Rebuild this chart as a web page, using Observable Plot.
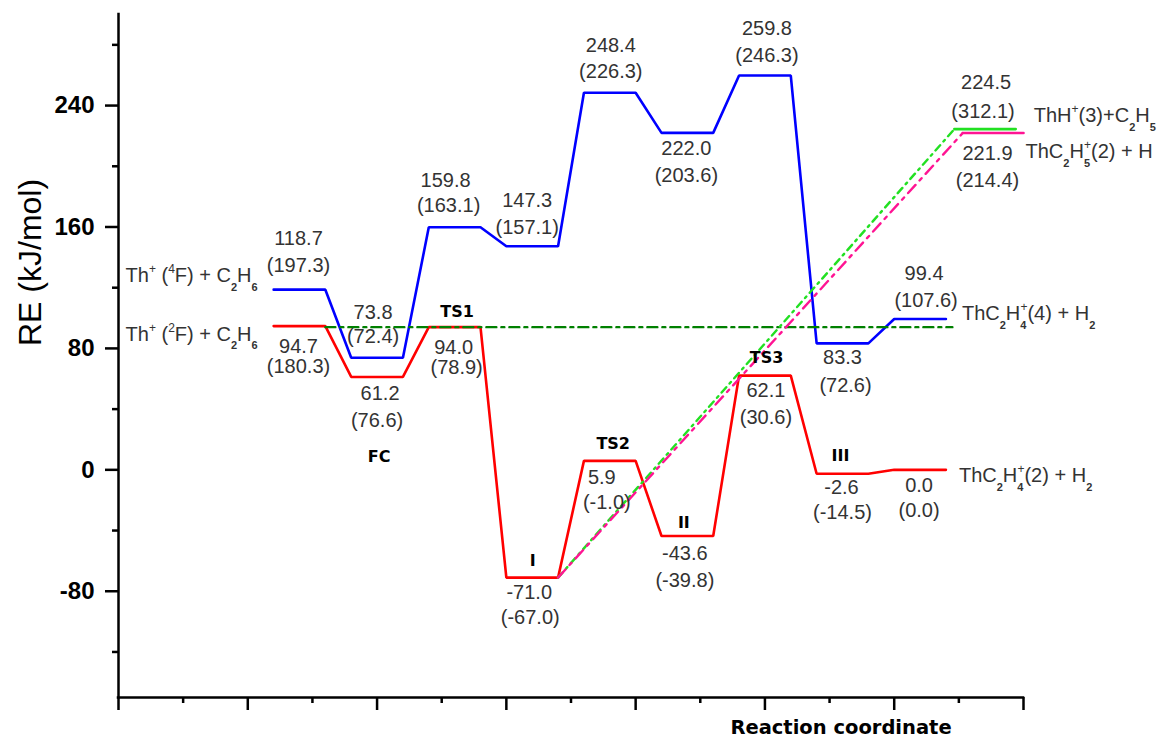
<!DOCTYPE html>
<html>
<head>
<meta charset="utf-8">
<script src="https://cdn.jsdelivr.net/npm/d3@7"></script>
<script src="https://cdn.jsdelivr.net/npm/@observablehq/plot@0.6"></script>
<style>
  html, body { margin: 0; padding: 0; background: #fff; }
  #chart svg { display: block; }
</style>
</head>
<body>
<div id="chart"></div>
<script>
// Stationary points along the reaction coordinate: each one is a short level
const stageStart = [2.4, 3.6, 4.8, 6.0, 7.2, 8.4, 9.6, 10.8, 12.0];
const levelWidth = 0.8;

// Doublet surface (red): relative energies in kJ/mol, second value in parentheses
const doubletRE = [94.7, 61.2, 94.0, -71.0, 5.9, -43.6, 62.1, -2.6, 0.0];
const doubletAlt = [180.3, 76.6, 78.9, -67.0, -1.0, -39.8, 30.6, -14.5, 0.0];
const stateNames = ["", "FC", "TS1", "I", "TS2", "II", "TS3", "III", ""];

// Quartet surface (blue)
const quartetRE = [118.7, 73.8, 159.8, 147.3, 248.4, 222.0, 259.8, 83.3, 99.4];
const quartetAlt = [197.3, 72.4, 163.1, 157.1, 226.3, 203.6, 246.3, 72.6, 107.6];

// Direct dissociation channels out of intermediate I
const channelNames = ["ThH^+(3)+C_2H_5", "ThC_2H_5^+(2) + H"];
const channelRE = [224.5, 221.9];
const channelAlt = [312.1, 214.4];
const channelStart = [12.93, 13.06];
const channelEnd = [13.88, 14.0];

// Entrance and exit species (quartet, doublet)
const reactantNames = ["Th^+ (^4F) + C_2H_6", "Th^+ (^2F) + C_2H_6"];
const productNames = ["ThC_2H_4^+(4) + H_2", "ThC_2H_4^+(2) + H_2"];

// Dash-dot reference line at the entrance energy
const referenceX = [3.2, 12.9];
const referenceRE = [94.0, 94.0];

// Axes
const xDomain = [0, 14];
const yDomain = [-150, 300];
const xMajorTicks = [0, 2, 4, 6, 8, 10, 12, 14];
const xMinorTicks = [1, 3, 5, 7, 9, 11, 13];
const yMajorTicks = [-80, 0, 80, 160, 240];
const yMinorTicks = [-120, -40, 40, 120, 200, 280];
const xTitle = "Reaction coordinate";
const yTitle = "RE (kJ/mol)";

// ---- styling ----
const regularFont = "Liberation Sans, Arial, Helvetica, sans-serif";
const boldFont = "DejaVu Sans, Verdana, sans-serif";
const red = "#ff0000", blue = "#0000ff", refGreen = "#008000";
const channelColors = ["#22e022", "#ff1493"];
const channelDashes = ["7,5,2,5", "11,6,3,6"];
const levelStroke = 2.6;

// label placement, pixel offsets from each level's centre: [dx1, dy1, dx2, dy2]
const quartetLabelOffsets = [
  [-1, -51, -1, -24], [-4, -45, -4, -21], [-9, -47, -6, -22], [-5, -46, -5, -19],
  [1, -47, 1, -21], [-1, 16, -1, 43], [2, -47, 2, -20], [0, 14, 3, 42], [4, -45, 6, -18]
];
const doubletLabelOffsets = [
  [-1, 20, -1, 40], [3, 17, 0, 44], [-1, 20, 2, 40], [-3, 15, -2, 40],
  [-8, 16.5, -3, 41.5], [-2.5, 18, -2.5, 45], [1, 15, 1, 42], [-1, 14, 0, 39], [-1, 16, -1, 41]
];
const stateNameOffsets = [null, [2, 80], [2.5, -15], [0.6, -17], [3.4, -17], [-3.5, -13.6], [1.6, -18], [-2, -18], null];
const channelLabelOffsets = [[1, -46.5, -2, -17], [-5.6, 21, -5.6, 48]];

const levelEnd = stageStart.map(s => s + levelWidth);
const mid = i => stageStart[i] + levelWidth / 2;

function stepPath(values) {
  return values.flatMap((v, i) => [{x: stageStart[i], y: v}, {x: levelEnd[i], y: v}]);
}
const doubletPath = stepPath(doubletRE);
const quartetPath = stepPath(quartetRE);
const fromI = 3;
const channelDash = channelRE.map((v, k) => [
  {x: levelEnd[fromI], y: doubletRE[fromI]}, {x: channelStart[k], y: v}
]);
const channelLevel = channelRE.map((v, k) => [
  {x: channelStart[k], y: v}, {x: channelEnd[k], y: v}
]);
const referencePath = referenceX.map((x, i) => ({x, y: referenceRE[i]}));

const fmt = v => v.toFixed(1);

function label(x, y, text, dx, dy, opts = {}) {
  return Plot.text([{x, y, text}], {
    x: "x", y: "y", text: "text", dx, dy,
    fontSize: 20, fontFamily: regularFont, fill: "#333", ...opts
  });
}

const labelMarks = [];
quartetRE.forEach((v, i) => {
  const [dx1, dy1, dx2, dy2] = quartetLabelOffsets[i];
  labelMarks.push(label(mid(i), v, fmt(v), dx1, dy1));
  labelMarks.push(label(mid(i), v, `(${fmt(quartetAlt[i])})`, dx2, dy2));
});
doubletRE.forEach((v, i) => {
  const [dx1, dy1, dx2, dy2] = doubletLabelOffsets[i];
  labelMarks.push(label(mid(i), v, fmt(v), dx1, dy1));
  labelMarks.push(label(mid(i), v, `(${fmt(doubletAlt[i])})`, dx2, dy2));
  if (stateNames[i]) {
    const [dx, dy] = stateNameOffsets[i];
    labelMarks.push(label(mid(i), v, stateNames[i], dx, dy,
      {fontFamily: boldFont, fontWeight: "bold", fontSize: 16, fill: "#000"}));
  }
});
channelRE.forEach((v, k) => {
  const [dx1, dy1, dx2, dy2] = channelLabelOffsets[k];
  const c = (channelStart[k] + channelEnd[k]) / 2;
  labelMarks.push(label(c, v, fmt(v), dx1, dy1));
  labelMarks.push(label(c, v, `(${fmt(channelAlt[k])})`, dx2, dy2));
});

// species names (markup: ^x superscript, _x subscript)
const speciesMarks = [
  label(stageStart[0], quartetRE[0], reactantNames[0], -16, -14.5, {textAnchor: "end"}),
  label(stageStart[0], doubletRE[0], reactantNames[1], -16, 8, {textAnchor: "end"}),
  label(levelEnd[8], quartetRE[8], productNames[0], 16, -5, {textAnchor: "start"}),
  label(levelEnd[8], doubletRE[8], productNames[1], 13, 5.5, {textAnchor: "start"}),
  label(channelEnd[0], channelRE[0], channelNames[0], 18, -13, {textAnchor: "start"}),
  label(channelEnd[1], channelRE[1], channelNames[1], 2, 19, {textAnchor: "start"})
];

const axisStroke = 2.5;

const chart = Plot.plot({
  width: 1165,
  height: 744,
  marginLeft: 118,
  marginRight: 142,
  marginTop: 14,
  marginBottom: 47,
  style: {fontFamily: regularFont, color: "#000", background: "#fff", overflow: "visible"},
  x: {domain: xDomain, axis: null},
  y: {domain: yDomain, axis: null},
  marks: [
    // axes
    Plot.axisY(yMajorTicks, {anchor: "left", tickSize: 13, tickPadding: 11, strokeWidth: axisStroke,
      tickFormat: d => String(d), fontSize: 24, fontWeight: "bold", fontFamily: regularFont, label: null}),
    Plot.axisY(yMinorTicks, {anchor: "left", tickSize: 6, strokeWidth: axisStroke, tickFormat: () => "", label: null}),
    Plot.axisX(xMajorTicks, {anchor: "bottom", tickSize: 13, strokeWidth: axisStroke, tickFormat: () => "", label: null}),
    Plot.axisX(xMinorTicks, {anchor: "bottom", tickSize: 6, strokeWidth: axisStroke, tickFormat: () => "", label: null}),
    Plot.ruleX([xDomain[0]], {y1: yDomain[0], y2: yDomain[1], strokeWidth: axisStroke, strokeLinecap: "square"}),
    Plot.ruleY([yDomain[0]], {x1: xDomain[0], x2: xDomain[1], strokeWidth: axisStroke, strokeLinecap: "square"}),
    Plot.text([yTitle], {frameAnchor: "left", rotate: -90, dx: -88, dy: -10,
      fontSize: 32, fontFamily: regularFont, fill: "#000"}),
    Plot.text([xTitle], {frameAnchor: "bottom", dx: 270, dy: 36,
      fontSize: 19.5, fontWeight: "bold", fontFamily: boldFont, fill: "#000"}),

    // energy profiles
    Plot.line(quartetPath, {x: "x", y: "y", stroke: blue, strokeWidth: levelStroke, strokeLinejoin: "miter"}),
    Plot.line(doubletPath, {x: "x", y: "y", stroke: red, strokeWidth: levelStroke, strokeLinejoin: "miter"}),
    ...channelLevel.map((d, k) => Plot.line(d, {x: "x", y: "y", stroke: channelColors[k], strokeWidth: levelStroke})),
    Plot.line(referencePath, {x: "x", y: "y", stroke: refGreen, strokeWidth: 2.4, strokeDasharray: "10,5,3,5"}),
    ...channelDash.map((d, k) => Plot.line(d, {x: "x", y: "y", stroke: channelColors[k], strokeWidth: 2.4,
      strokeDasharray: channelDashes[k]})),

    ...labelMarks,
    ...speciesMarks
  ]
});

// turn ^x / _x markup into super- and subscript tspans
function richText(el) {
  const src = el.textContent;
  if (!/[\^_]/.test(src)) return;
  const NS = "http://www.w3.org/2000/svg";
  const runs = [];
  for (let i = 0; i < src.length; i++) {
    const c = src[i];
    if ((c === "^" || c === "_") && i + 1 < src.length) {
      runs.push({kind: c === "^" ? "sup" : "sub", text: src[++i]});
    } else if (runs.length && runs[runs.length - 1].kind === "normal") {
      runs[runs.length - 1].text += c;
    } else {
      runs.push({kind: "normal", text: c});
    }
  }
  while (el.firstChild) el.removeChild(el.firstChild);
  const shiftOf = {normal: 0, sup: -9, sub: 9};
  let shift = 0, prev = null;
  for (const r of runs) {
    const t = document.createElementNS(NS, "tspan");
    const target = shiftOf[r.kind];
    if (target !== shift) { t.setAttribute("dy", target - shift); shift = target; }
    if (r.kind === "sup") { t.setAttribute("font-size", 12); if (prev === "sub") t.setAttribute("dx", -6); }
    if (r.kind === "sub") { t.setAttribute("font-size", 11); t.setAttribute("font-weight", "bold"); }
    t.textContent = r.text;
    el.appendChild(t);
    prev = r.kind;
  }
}
chart.querySelectorAll("text").forEach(richText);

document.getElementById("chart").appendChild(chart);
</script>
</body>
</html>
